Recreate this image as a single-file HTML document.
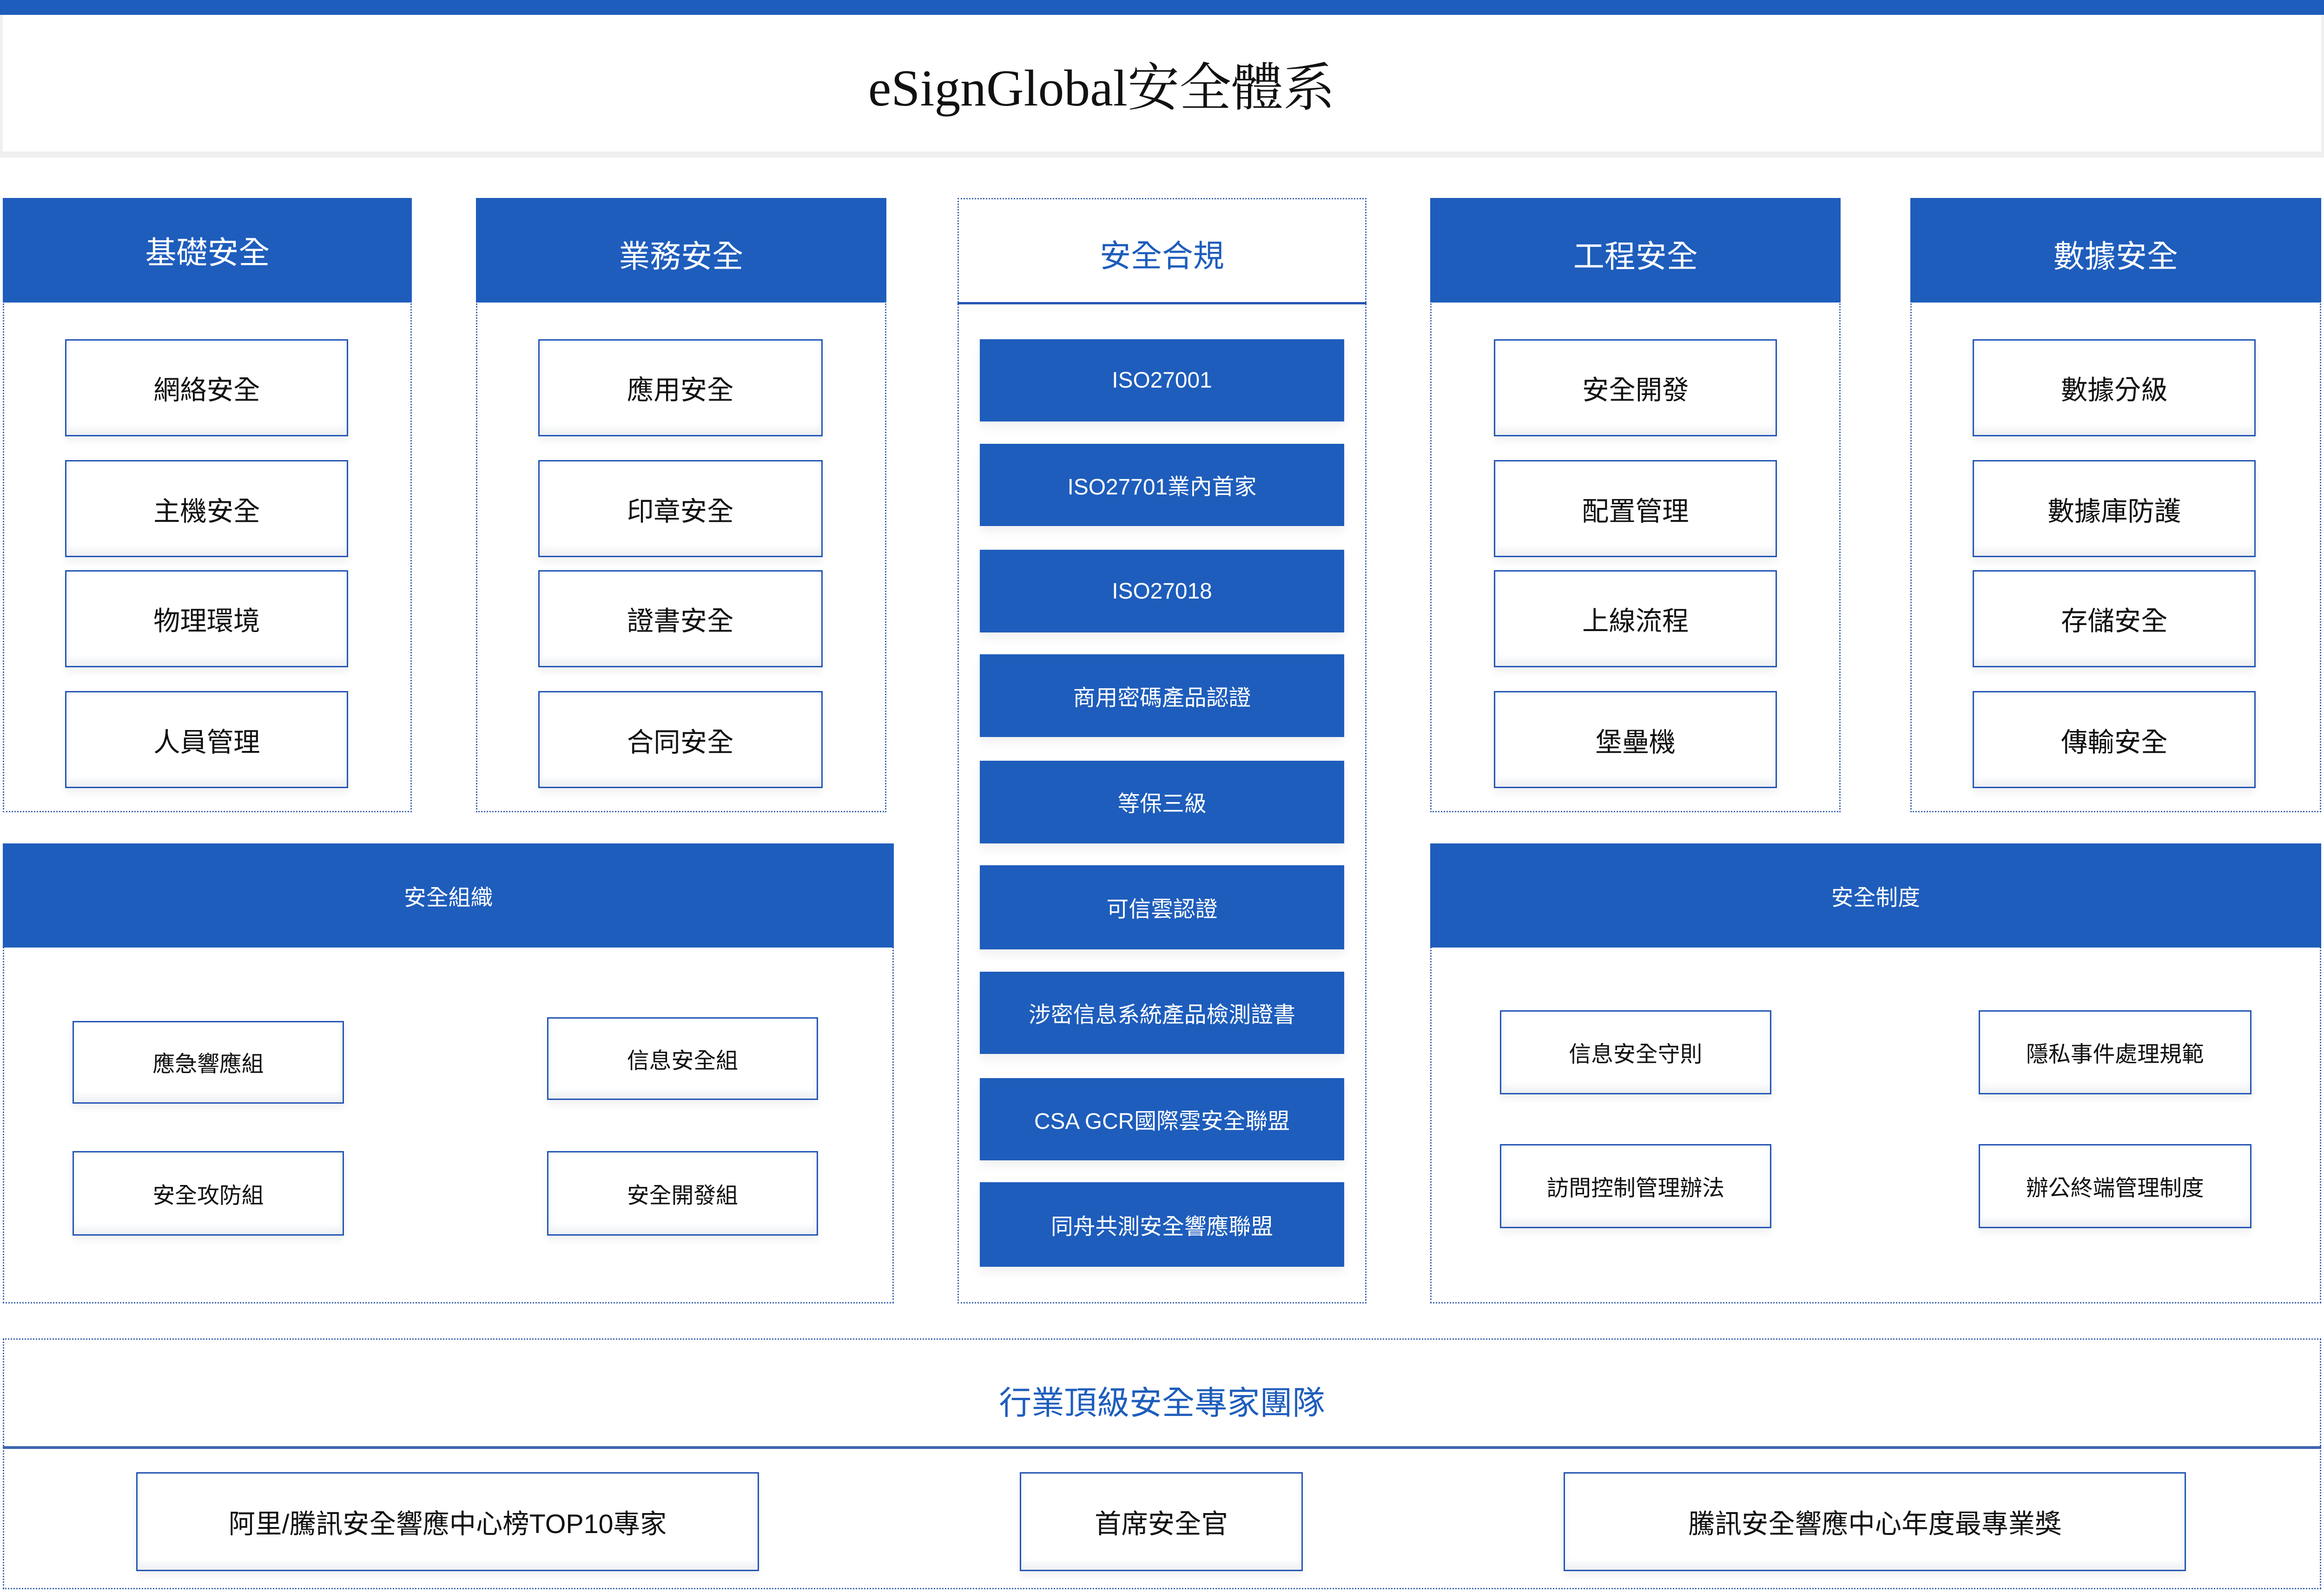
<!DOCTYPE html>
<html><head><meta charset="utf-8"><style>
html,body{margin:0;padding:0;background:#fff;width:100%;height:100%;}
body{overflow:hidden;position:relative;font-family:"Liberation Sans","Noto Sans CJK TC",sans-serif;}
.a{position:absolute;box-sizing:border-box;left:calc(var(--x)*100vw/1568);top:calc(var(--y)*100vh/869);width:calc(var(--w)*100vw/1568);height:calc(var(--h)*100vh/869);font-size:calc(var(--f,18)*100vw/1568);}
.dot{border:calc(100vw/1568) dotted #3d66b0;}
.hd{background:#1e5dbc;color:#fff;display:flex;align-items:center;justify-content:center;--f:21;}
.it{background:#fff;border:calc(1.2*100vw/1568) solid #2456b5;box-shadow:inset 0 -0.25vw 0.32vw #eef0f3,0 0.2vw 0.32vw rgba(0,0,0,0.06);display:flex;align-items:center;justify-content:center;color:#111;}
.bl{background:#1e5dbc;color:#fff;display:flex;align-items:center;justify-content:center;--f:15;box-shadow:0 0.25vw 0.4vw rgba(0,0,0,0.06);}
.sm{--f:15;}
.pt{padding-top:calc(5*100vw/1568);}
</style></head><body>
<div class="a" style="--x:0;--y:0;--w:1568;--h:8;background:#1e5dbc"></div>
<div class="a" style="--x:0;--y:8;--w:1568;--h:78;--f:35;border-left:0.13vw solid #f0f0f0;border-right:0.13vw solid #f0f0f0;border-bottom:0.26vw solid #efefef;display:flex;align-items:center;justify-content:center;font-family:'Liberation Serif','Noto Serif CJK SC',serif;color:#111"><span style="margin-left:-5.2vw">eSignGlobal安全體系</span></div>

<div class="a dot" style="--x:2;--y:108;--w:276;--h:335"></div>
<div class="a hd" style="--x:2;--y:108;--w:276;--h:57">基礎安全</div>
<div class="a it" style="--x:44;--y:185;--w:191;--h:53">網絡安全</div>
<div class="a it" style="--x:44;--y:251;--w:191;--h:53">主機安全</div>
<div class="a it" style="--x:44;--y:311;--w:191;--h:53">物理環境</div>
<div class="a it" style="--x:44;--y:377;--w:191;--h:53">人員管理</div>

<div class="a dot" style="--x:321;--y:108;--w:277;--h:335"></div>
<div class="a hd pt" style="--x:321;--y:108;--w:277;--h:57">業務安全</div>
<div class="a it" style="--x:363;--y:185;--w:192;--h:53">應用安全</div>
<div class="a it" style="--x:363;--y:251;--w:192;--h:53">印章安全</div>
<div class="a it" style="--x:363;--y:311;--w:192;--h:53">證書安全</div>
<div class="a it" style="--x:363;--y:377;--w:192;--h:53">合同安全</div>

<div class="a dot" style="--x:646;--y:108;--w:276;--h:603"></div>
<div class="a pt" style="--x:646;--y:108;--w:276;--h:58;--f:21;border-bottom:0.1vw solid #2456b5;display:flex;align-items:center;justify-content:center;color:#1e5dbc">安全合規</div>
<div class="a bl" style="--x:661;--y:185;--w:246;--h:45">ISO27001</div>
<div class="a bl" style="--x:661;--y:242;--w:246;--h:45">ISO27701業內首家</div>
<div class="a bl" style="--x:661;--y:300;--w:246;--h:45">ISO27018</div>
<div class="a bl" style="--x:661;--y:357;--w:246;--h:45">商用密碼產品認證</div>
<div class="a bl" style="--x:661;--y:415;--w:246;--h:45">等保三級</div>
<div class="a bl" style="--x:661;--y:472;--w:246;--h:46">可信雲認證</div>
<div class="a bl" style="--x:661;--y:530;--w:246;--h:45">涉密信息系統產品檢測證書</div>
<div class="a bl" style="--x:661;--y:588;--w:246;--h:45">CSA GCR國際雲安全聯盟</div>
<div class="a bl" style="--x:661;--y:645;--w:246;--h:46">同舟共測安全響應聯盟</div>

<div class="a dot" style="--x:965;--y:108;--w:277;--h:335"></div>
<div class="a hd pt" style="--x:965;--y:108;--w:277;--h:57">工程安全</div>
<div class="a it" style="--x:1008;--y:185;--w:191;--h:53">安全開發</div>
<div class="a it" style="--x:1008;--y:251;--w:191;--h:53">配置管理</div>
<div class="a it" style="--x:1008;--y:311;--w:191;--h:53">上線流程</div>
<div class="a it" style="--x:1008;--y:377;--w:191;--h:53">堡壘機</div>

<div class="a dot" style="--x:1289;--y:108;--w:277;--h:335"></div>
<div class="a hd pt" style="--x:1289;--y:108;--w:277;--h:57">數據安全</div>
<div class="a it" style="--x:1331;--y:185;--w:191;--h:53">數據分級</div>
<div class="a it" style="--x:1331;--y:251;--w:191;--h:53">數據庫防護</div>
<div class="a it" style="--x:1331;--y:311;--w:191;--h:53">存儲安全</div>
<div class="a it" style="--x:1331;--y:377;--w:191;--h:53">傳輸安全</div>

<div class="a dot" style="--x:2;--y:460;--w:601;--h:251"></div>
<div class="a hd" style="--x:2;--y:460;--w:601;--h:57;--f:15">安全組織</div>
<div class="a it sm" style="--x:49;--y:557;--w:183;--h:45">應急響應組</div>
<div class="a it sm" style="--x:49;--y:628;--w:183;--h:46">安全攻防組</div>
<div class="a it sm" style="--x:369;--y:555;--w:183;--h:45">信息安全組</div>
<div class="a it sm" style="--x:369;--y:628;--w:183;--h:46">安全開發組</div>

<div class="a dot" style="--x:965;--y:460;--w:601;--h:251"></div>
<div class="a hd" style="--x:965;--y:460;--w:601;--h:57;--f:15">安全制度</div>
<div class="a it sm" style="--x:1012;--y:551;--w:183;--h:46">信息安全守則</div>
<div class="a it sm" style="--x:1012;--y:624;--w:183;--h:46">訪問控制管理辦法</div>
<div class="a it sm" style="--x:1335;--y:551;--w:184;--h:46">隱私事件處理規範</div>
<div class="a it sm" style="--x:1335;--y:624;--w:184;--h:46">辦公終端管理制度</div>

<div class="a dot" style="--x:2;--y:730;--w:1564;--h:137"></div>
<div class="a" style="--x:2;--y:740;--w:1564;--h:48;--f:22;display:flex;align-items:center;justify-content:center;color:#1e5dbc">行業頂級安全專家團隊</div>
<div class="a" style="--x:2;--y:789;--w:1564;--h:1.5;background:#3d66b0"></div>
<div class="a it" style="--x:92;--y:803;--w:420;--h:54">阿里/騰訊安全響應中心榜TOP10專家</div>
<div class="a it" style="--x:688;--y:803;--w:191;--h:54">首席安全官</div>
<div class="a it" style="--x:1055;--y:803;--w:420;--h:54">騰訊安全響應中心年度最專業獎</div>
</body></html>
